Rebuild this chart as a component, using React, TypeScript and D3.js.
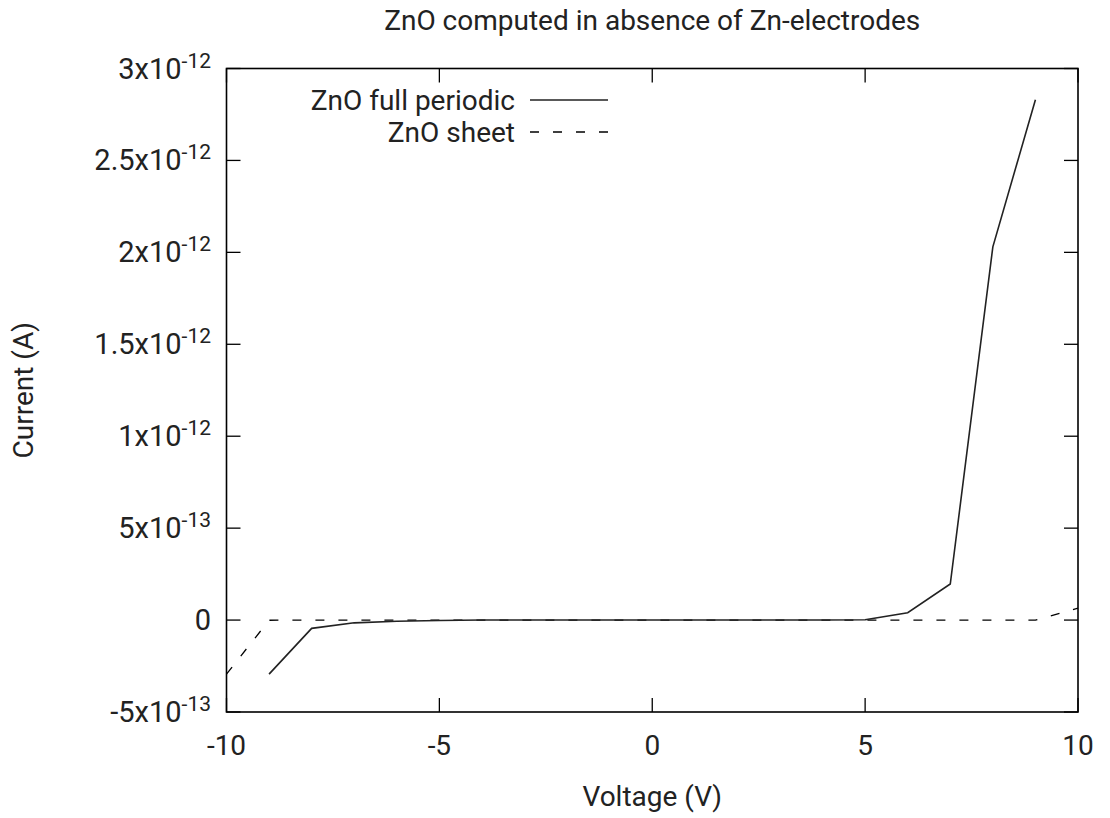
import React from "react";
import * as d3 from "d3";

const voltageFull = [-9, -8, -7, -6, -5, -4, -3, -2, -1, 0, 1, 2, 3, 4, 5, 6, 7, 8, 9];
const currentFull = [-2.94e-13, -4.5e-14, -1.5e-14, -6e-15, -2e-15, 0, 0, 0, 0, 0, 0, 0, 0, 0, 2e-15, 4e-14, 1.96e-13, 2.03e-12, 2.83e-12];
const voltageSheet = [-10, -9, -8, -7, -6, -5, -4, -3, -2, -1, 0, 1, 2, 3, 4, 5, 6, 7, 8, 9, 10];
const currentSheet = [-2.94e-13, -1e-15, 0, 0, 0, 0, 0, 0, 0, 0, 0, 0, 0, 0, 0, 0, 0, 0, 0, 0, 6.5e-14];
const xTicks = [-10, -5, 0, 5, 10];
const yTicks = [-5e-13, 0, 5e-13, 1e-12, 1.5e-12, 2e-12, 2.5e-12, 3e-12];
const yTickMant = ["-5", "0", "5", "1", "1.5", "2", "2.5", "3"];
const yTickExp = ["-13", "", "-13", "-12", "-12", "-12", "-12", "-12"];

const W = 1110, H = 818;
const L = 226.5, R = 1078, T = 68.5, B = 712;
const FONT = "Roboto, 'Noto Sans', sans-serif";

export default function App() {
  const x = d3.scaleLinear().domain([-10, 10]).range([L, R]);
  const y = d3.scaleLinear().domain([-5e-13, 3e-12]).range([B, T]);
  const line = d3.line<[number, number]>().x(d => x(d[0])).y(d => y(d[1]));
  const full = voltageFull.map((v, i) => [v, currentFull[i]] as [number, number]);
  const sheet = voltageSheet.map((v, i) => [v, currentSheet[i]] as [number, number]);
  const tick = 14;
  const fs = 28;
  return (
    <svg width={W} height={H} style={{ position: "absolute", left: 0, top: 0, background: "#fff" }} fontFamily={FONT}>
      <rect x={0} y={0} width={W} height={H} fill="#fff" />
      <text x={(L + R) / 2} y={30} textAnchor="middle" fontSize={fs} fill="#222">ZnO computed in absence of Zn-electrodes</text>
      {xTicks.map(t => (
        <g key={"x" + t}>
          <line x1={x(t)} x2={x(t)} y1={B} y2={B - tick} stroke="#000" strokeWidth={1.3} />
          <line x1={x(t)} x2={x(t)} y1={T} y2={T + tick} stroke="#000" strokeWidth={1.3} />
          <text x={x(t)} y={755} textAnchor="middle" fontSize={fs} fill="#222">{t}</text>
        </g>
      ))}
      {yTicks.map((t, i) => (
        <g key={"y" + i}>
          <line x1={L} x2={L + tick} y1={y(t)} y2={y(t)} stroke="#000" strokeWidth={1.3} />
          <line x1={R} x2={R - tick} y1={y(t)} y2={y(t)} stroke="#000" strokeWidth={1.3} />
          <text x={211} y={y(t) + 10} textAnchor="end" fontSize={29} fill="#222">
            {yTickExp[i] ? (
              <>
                {yTickMant[i]}x10<tspan dy={-11} fontSize={21}>{yTickExp[i]}</tspan>
              </>
            ) : yTickMant[i]}
          </text>
        </g>
      ))}
      <path d={line(sheet) || ""} fill="none" stroke="#000" strokeWidth={1.3} strokeDasharray="9,14" />
      <path d={line(full) || ""} fill="none" stroke="#222" strokeWidth={1.6} />
      <rect x={L} y={T} width={R - L} height={B - T} fill="none" stroke="#000" strokeWidth={1.6} />
      <text x={515} y={110} textAnchor="end" fontSize={fs} fill="#222">ZnO full periodic</text>
      <line x1={530} x2={608} y1={100} y2={100} stroke="#222" strokeWidth={1.6} />
      <text x={515} y={142} textAnchor="end" fontSize={fs} fill="#222">ZnO sheet</text>
      <line x1={530} x2={608} y1={132} y2={132} stroke="#000" strokeWidth={1.3} strokeDasharray="9,14" />
      <text x={(L + R) / 2} y={806} textAnchor="middle" fontSize={fs} fill="#222">Voltage (V)</text>
      <text transform={`translate(33, ${(T + B) / 2}) rotate(-90)`} textAnchor="middle" fontSize={fs} fill="#222">Current (A)</text>
    </svg>
  );
}
